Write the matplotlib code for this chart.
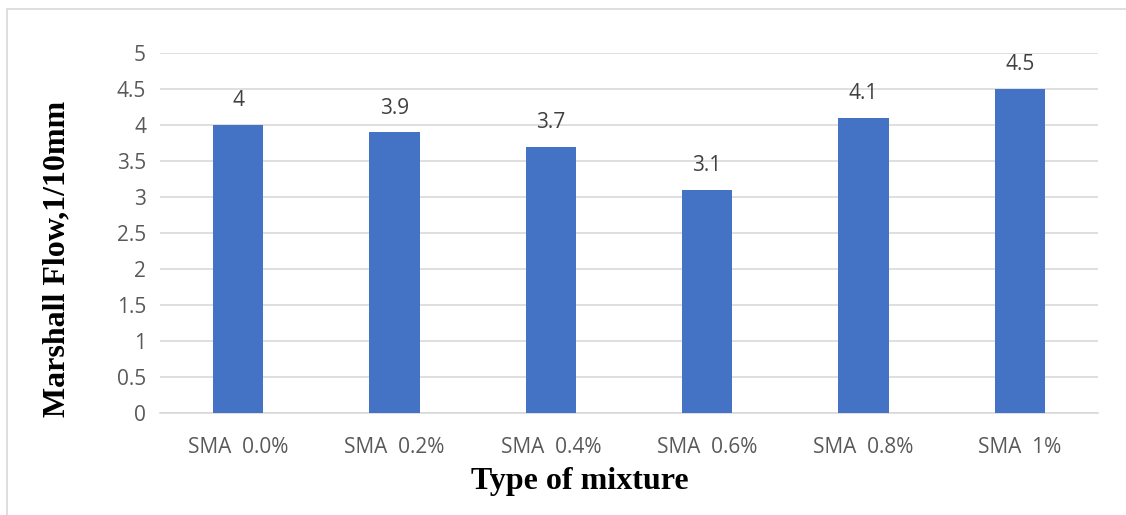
import matplotlib
matplotlib.use("Agg")
import matplotlib.pyplot as plt
from matplotlib.patches import Rectangle

categories = ["SMA  0.0%", "SMA  0.2%", "SMA  0.4%", "SMA  0.6%", "SMA  0.8%", "SMA  1%"]
flow = [4.0, 3.9, 3.7, 3.1, 4.1, 4.5]
yticks = [0, 0.5, 1, 1.5, 2, 2.5, 3, 3.5, 4, 4.5, 5]

W, H = 1126, 515
fig = plt.figure(figsize=(W / 100, H / 100), dpi=100)
ax = fig.add_axes([160 / W, 1 - 413 / H, 938 / W, 360 / H])

# outer chart frame
fig.patches.append(Rectangle((7 / W, -0.01), 1.2, 1 - 9 / H + 0.01,
                             transform=fig.transFigure, fill=False,
                             edgecolor="#d9d9d9", linewidth=1.2))

x = range(len(categories))
ax.bar(x, flow, width=0.32, color="#4472c4", zorder=3)
for xi, v in zip(x, flow):
    ax.text(xi, v + 0.19, f"{v:g}", ha="center", va="bottom",
            fontsize=15, color="#404040", family="Open Sans")

ax.set_xlim(-0.5, len(categories) - 0.5)
ax.set_ylim(0, 5)
ax.set_yticks(yticks)
ax.set_yticklabels([f"{t:g}" for t in yticks], family="Open Sans",
                   fontsize=15, color="#595959")
ax.set_xticks(list(x))
ax.set_xticklabels(categories, family="Open Sans", fontsize=15, color="#595959")
ax.tick_params(length=0)
ax.tick_params(axis="y", pad=10)
ax.tick_params(axis="x", pad=17)
ax.grid(axis="y", color="#d9d9d9", linewidth=1.2, zorder=0)
for s in ["top", "right", "left"]:
    ax.spines[s].set_visible(False)
ax.spines["bottom"].set_color("#d9d9d9")
ax.spines["bottom"].set_linewidth(1.2)

fig.text(580 / W, 1 - 481 / H, "Type of mixture", family="Liberation Serif",
         fontweight="bold", fontsize=23, ha="center", va="center")
fig.text(57 / W, 1 - 259 / H, "Marshall Flow,1/10mm", family="Liberation Serif",
         fontweight="bold", fontsize=23, ha="center", va="center", rotation=90)

fig.savefig("out.png", dpi=100, facecolor="white")
